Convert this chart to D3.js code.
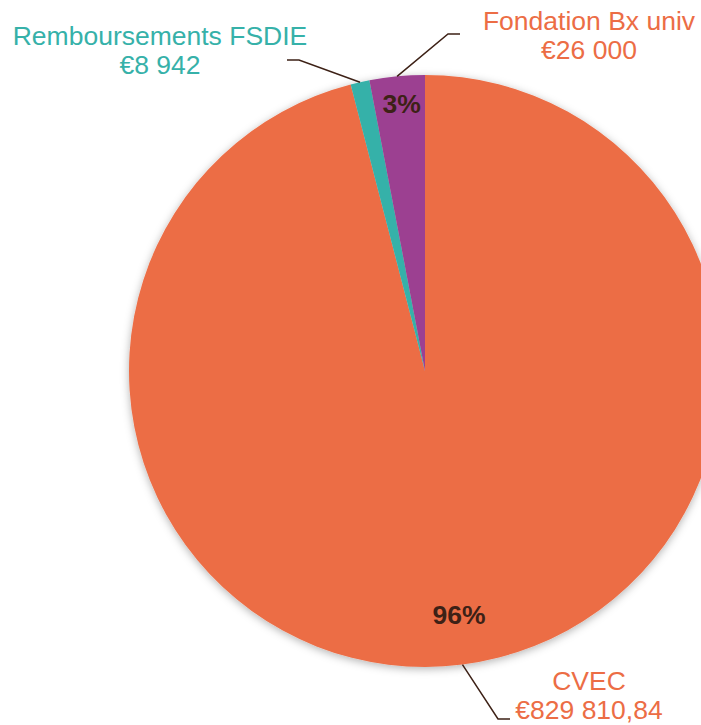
<!DOCTYPE html>
<html>
<head>
<meta charset="utf-8">
<script src="https://cdn.jsdelivr.net/npm/d3@7"></script>
<style>
  body { margin: 0; background: #fff; }
  svg { display: block; }
</style>
</head>
<body>
<div id="chart"></div>
<script>
// data
var labels = ["CVEC", "Remboursements FSDIE", "Fondation Bx univ"];
var values = [829810.84, 8942, 26000];
var colors = ["#EC6D45", "#36B1A9", "#9C3F91"];
var labelColors = ["#EC6D45", "#36B1A9", "#EC6D45"];
var showPct = [true, false, true];

var width = 701;
var height = 725;
var cx = 425, cy = 371;
var radius = 296;

// where each callout sits (text centre x, first baseline y) and its elbow
var callouts = [
  { x: 589, y: 690, elbowX: 498, elbowY: 719, endX: 510 },
  { x: 160, y: 45, elbowX: 299, elbowY: 60, endX: 287 },
  { x: 589, y: 30, elbowX: 448, elbowY: 34, endX: 460 }
];
var pctRadius = [245, 0, 269];
var pctShift = [3, 0, 2];

var fr = d3.formatLocale({ decimal: ",", thousands: "\u00a0", grouping: [3], currency: ["€", ""] });
function money(v) {
  return Number.isInteger(v) ? fr.format("$,.0f")(v) : fr.format("$,.2f")(v);
}
var pctFmt = d3.format(".0%");

var svg = d3.select("#chart")
  .append("svg")
  .attr("width", width)
  .attr("height", height)
  .style("font-family", "'Liberation Sans', Arial, sans-serif");

var defs = svg.append("defs");
var f = defs.append("filter").attr("id", "shadow")
  .attr("x", "-10%").attr("y", "-10%").attr("width", "120%").attr("height", "120%");
f.append("feDropShadow")
  .attr("dx", 0).attr("dy", 2)
  .attr("stdDeviation", 4)
  .attr("flood-color", "#000")
  .attr("flood-opacity", 0.3);

var data = labels.map(function(l, i) { return { label: l, value: values[i], i: i }; });
var total = d3.sum(values);

var pie = d3.pie()
  .value(function(d) { return d.value; })
  .sort(null);

var arc = d3.arc().innerRadius(0).outerRadius(radius);
var outer = d3.arc().innerRadius(radius).outerRadius(radius);

var arcs = pie(data);

var g = svg.append("g")
  .attr("transform", "translate(" + cx + "," + cy + ")");

g.append("g")
  .attr("filter", "url(#shadow)")
  .selectAll("path")
  .data(arcs)
  .enter()
  .append("path")
  .attr("d", arc)
  .attr("fill", function(d) { return colors[d.data.i]; });

// percentage labels
g.selectAll(".pct")
  .data(arcs.filter(function(d) { return showPct[d.data.i]; }))
  .enter()
  .append("text")
  .attr("class", "pct")
  .attr("transform", function(d) {
    var a = (d.startAngle + d.endAngle) / 2;
    var r = pctRadius[d.data.i];
    return "translate(" + (r * Math.sin(a) + pctShift[d.data.i]) + "," + (-r * Math.cos(a)) + ")";
  })
  .attr("dy", "0.36em")
  .attr("text-anchor", "middle")
  .attr("font-size", "26.5px")
  .attr("font-weight", "bold")
  .attr("fill", "#3D2116")
  .text(function(d) { return pctFmt(d.value / total); });

// leader lines
svg.selectAll(".leader")
  .data(arcs)
  .enter()
  .append("polyline")
  .attr("class", "leader")
  .attr("fill", "none")
  .attr("stroke", "#3D2116")
  .attr("stroke-width", 1.5)
  .attr("points", function(d) {
    var c = outer.centroid(d);
    var co = callouts[d.data.i];
    return [[cx + c[0], cy + c[1]], [co.elbowX, co.elbowY], [co.endX, co.elbowY]].join(" ");
  });

// category labels
var lab = svg.selectAll(".lab")
  .data(arcs)
  .enter()
  .append("text")
  .attr("class", "lab")
  .attr("text-anchor", "middle")
  .attr("font-size", "26.5px")
  .attr("fill", function(d) { return labelColors[d.data.i]; });

lab.append("tspan")
  .attr("x", function(d) { return callouts[d.data.i].x; })
  .attr("y", function(d) { return callouts[d.data.i].y; })
  .text(function(d) { return d.data.label; });

lab.append("tspan")
  .attr("x", function(d) { return callouts[d.data.i].x; })
  .attr("y", function(d) { return callouts[d.data.i].y + 29; })
  .text(function(d) { return money(d.data.value); });
</script>
</body>
</html>
